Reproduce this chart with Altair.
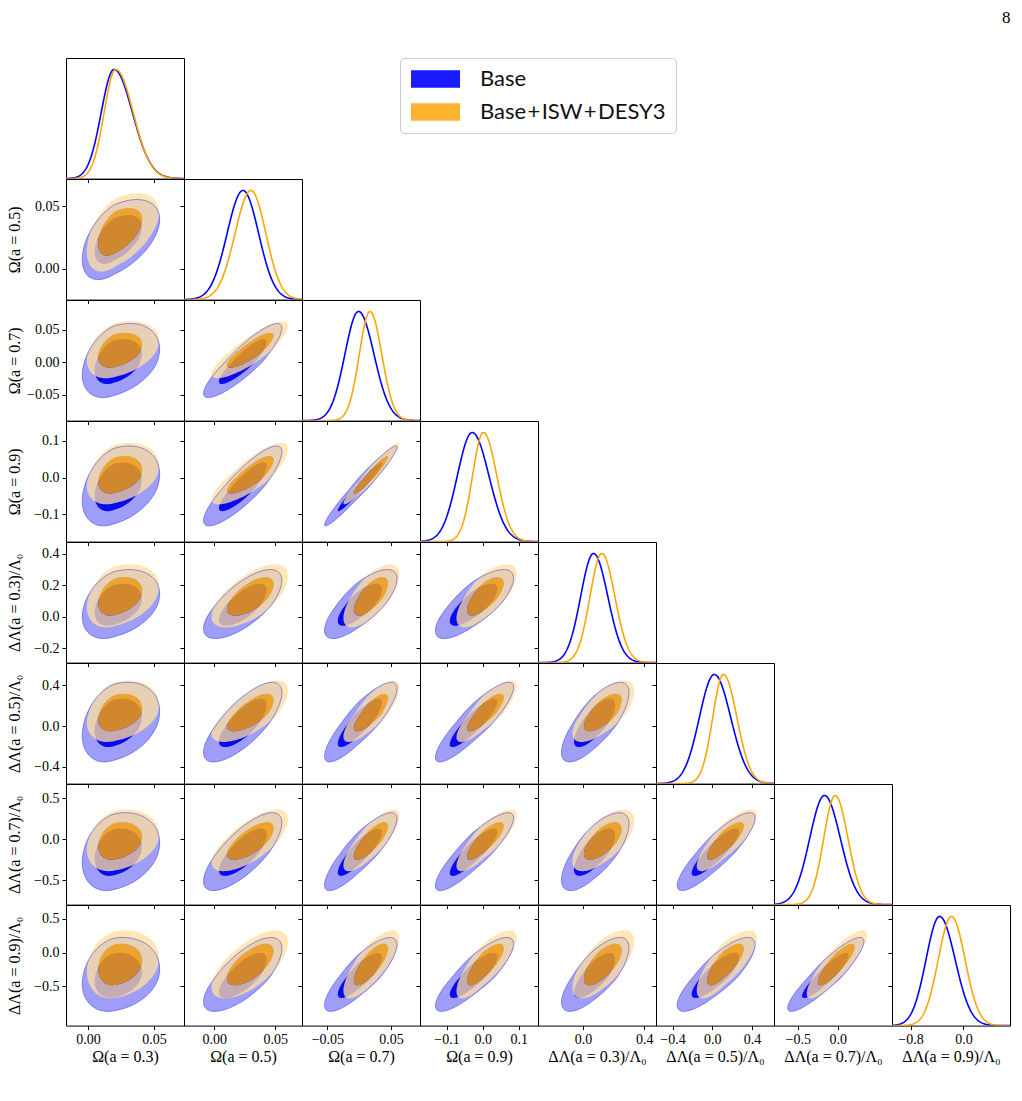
import numpy as np
import pandas as pd
import altair as alt

# ---------------- data ----------------
titles = ["Ω(a = 0.3)", "Ω(a = 0.5)", "Ω(a = 0.7)", "Ω(a = 0.9)",
          "ΔΛ(a = 0.3)/Λ₀", "ΔΛ(a = 0.5)/Λ₀", "ΔΛ(a = 0.7)/Λ₀", "ΔΛ(a = 0.9)/Λ₀"]
range_lo = [-0.0167, -0.0248, -0.0898, -0.1735, -0.293, -0.566, -0.797, -1.08]
range_hi = [0.0727, 0.0718, 0.0955, 0.153, 0.476, 0.62, 0.677, 0.705]
x_tick_values = [[0.0, 0.05], [0.0, 0.05], [-0.05, 0.05], [-0.1, 0.0, 0.1],
                 [0.0, 0.4], [-0.4, 0.0, 0.4], [-0.5, 0.0], [-0.8, 0.0]]
y_tick_values = [[0.0, 0.05], [0.0, 0.05], [-0.05, 0.0, 0.05], [-0.1, 0.0, 0.1],
                 [-0.2, 0.0, 0.2, 0.4], [-0.4, 0.0, 0.4], [-0.5, 0.0, 0.5], [-0.5, 0.0, 0.5]]
tick_formats = [".2f", ".2f", ".2f", ".1f", ".1f", ".1f", ".1f", ".1f"]

# posterior peak and lower / upper widths for each parameter
base_peak = [0.0197, 0.0235, -0.001, -0.029, 0.069, 0.02, -0.166, -0.36]
base_sig_lo = [0.0097, 0.013, 0.0215, 0.041, 0.084, 0.15, 0.185, 0.205]
base_sig_hi = [0.0139, 0.0128, 0.0243, 0.046, 0.093, 0.165, 0.198, 0.235]
comb_peak = [0.021, 0.030, 0.017, 0.002, 0.123, 0.112, -0.033, -0.18]
comb_sig_lo = [0.0088, 0.013, 0.0168, 0.030, 0.077, 0.108, 0.143, 0.20]
comb_sig_hi = [0.0132, 0.0122, 0.0185, 0.037, 0.085, 0.135, 0.16, 0.205]

# correlations (row parameter i vs column parameter j < i)
corr_base = [
    [],
    [0.50],
    [0.35, 0.88],
    [0.33, 0.86, 0.97],
    [0.33, 0.70, 0.75, 0.76],
    [0.30, 0.75, 0.85, 0.88, 0.75],
    [0.25, 0.75, 0.85, 0.87, 0.72, 0.87],
    [0.20, 0.72, 0.82, 0.84, 0.74, 0.82, 0.90],
]
corr_comb = [
    [],
    [0.50],
    [0.35, 0.85],
    [0.33, 0.82, 0.96],
    [0.33, 0.64, 0.69, 0.70],
    [0.30, 0.70, 0.80, 0.83, 0.69],
    [0.25, 0.70, 0.80, 0.82, 0.66, 0.82],
    [0.20, 0.66, 0.77, 0.79, 0.68, 0.77, 0.86],
]
dataset_labels = ["Base", "Base+ISW+DESY3"]
contour_radius = {"68": 1.515, "95": 2.486}   # 68% / 95% 2D levels

# ---------------- style ----------------
BLUE = "#0000ff"
ORANGE = "#ffa500"
B95 = "#9e9ef9"
B68 = "#0a0af2"
O95 = "#ffe09e"
O68 = "#ffa500"
W, H = 118, 120.6
SERIF = "Liberation Serif"
LEG_PATH = "M-1,-0.88H3.9V0.88H-1Z"

N = 120
tt = np.linspace(0, 2 * np.pi, N)


def ring(peak, slo, shi, i, j, rho, r):
    u = np.cos(tt)
    v = rho * np.cos(tt) + np.sqrt(1 - rho ** 2) * np.sin(tt)
    x = peak[j] + r * np.where(u < 0, u * slo[j], u * shi[j])
    y = peak[i] + r * np.where(v < 0, v * slo[i], v * shi[i])
    return x, y


def x_axis(r, c):
    if r == 7:
        return alt.Axis(values=x_tick_values[c], format=tick_formats[c], title=titles[c],
                        labels=True, ticks=True, tickSize=4, domain=False, grid=False,
                        labelPadding=3, titlePadding=2, labelFlush=False)
    return alt.Axis(values=x_tick_values[c], labels=False, title=None, ticks=True,
                    tickSize=4, domain=False, grid=False)


def y_axis(r, c):
    if c == 0:
        return alt.Axis(values=y_tick_values[r], format=tick_formats[r], title=titles[r],
                        labels=True, ticks=True, tickSize=4, domain=False, grid=False,
                        labelPadding=3, titleX=-44, labelFlush=False)
    return alt.Axis(values=y_tick_values[r], labels=False, title=None, ticks=True,
                    tickSize=4, domain=False, grid=False, orient="left")


def scale(k):
    return alt.Scale(domain=[range_lo[k], range_hi[k]], nice=False, zero=False)


def panel_2d(i, j):
    rb = corr_base[i][j]
    rc = corr_comb[i][j]
    parts = []

    def add(g, x, y):
        parts.append(pd.DataFrame({"g": g, "x": x, "y": y, "k": np.arange(len(x))}))

    bx2, by2 = ring(base_peak, base_sig_lo, base_sig_hi, i, j, rb, contour_radius["95"])
    bx1, by1 = ring(base_peak, base_sig_lo, base_sig_hi, i, j, rb, contour_radius["68"])
    ox2, oy2 = ring(comb_peak, comb_sig_lo, comb_sig_hi, i, j, rc, contour_radius["95"])
    ox1, oy1 = ring(comb_peak, comb_sig_lo, comb_sig_hi, i, j, rc, contour_radius["68"])
    add("b95", bx2, by2)
    add("b68", bx1, by1)
    add("o95", np.concatenate([ox2, ox1[::-1]]), np.concatenate([oy2, oy1[::-1]]))
    add("o68", ox1, oy1)
    df = pd.concat(parts, ignore_index=True)

    enc = dict(x=alt.X("x:Q", scale=scale(j), axis=x_axis(i, j)),
               y=alt.Y("y:Q", scale=scale(i), axis=y_axis(i, j)),
               order=alt.Order("k:Q"))

    def poly(g, color, op):
        return (alt.Chart().transform_filter(alt.datum.g == g)
                .mark_line(fill=color, fillOpacity=op, strokeOpacity=0, clip=True)
                .encode(**enc))

    outline = (alt.Chart().transform_filter(alt.datum.g == "b95")
               .mark_line(color="#4646ee", strokeWidth=0.8, opacity=0.75, clip=True)
               .encode(**enc))
    return alt.layer(poly("b95", B95, 1.0), poly("b68", B68, 1.0),
                     poly("o95", O95, 0.76), poly("o68", O68, 0.81), outline,
                     data=df).properties(width=W, height=H)


def density(peak, slo, shi, k, xs):
    s = np.where(xs < peak[k], slo[k], shi[k])
    return np.exp(-0.5 * ((xs - peak[k]) / s) ** 2)


def panel_diag(k):
    xs = np.linspace(range_lo[k], range_hi[k], 240)
    df_b = pd.DataFrame({"x": xs, "d": density(base_peak, base_sig_lo, base_sig_hi, k, xs)})
    df_c = pd.DataFrame({"x": xs, "d": density(comb_peak, comb_sig_lo, comb_sig_hi, k, xs)})
    X = alt.X("x:Q", scale=scale(k), axis=x_axis(k, k))
    Y = alt.Y("d:Q", scale=alt.Scale(domain=[0, 1.105], nice=False, zero=True), axis=None)
    lb = alt.Chart(df_b).mark_line(color=BLUE, strokeWidth=1.6, clip=True).encode(x=X, y=Y)
    lc = alt.Chart(df_c).mark_line(color=ORANGE, strokeWidth=1.6, clip=True).encode(x=X, y=Y)
    if k > 0:
        tk = (alt.Chart(pd.DataFrame({"v": y_tick_values[k]}))
              .mark_point(opacity=0)
              .encode(y=alt.Y("v:Q", scale=scale(k), axis=y_axis(k, 1))))
        ch = alt.layer(lb, lc, tk).resolve_scale(y="independent")
    else:
        leg = (alt.Chart(pd.DataFrame({"dataset": dataset_labels}))
               .transform_filter("false")
               .mark_point(shape=LEG_PATH, filled=True, size=400, opacity=1)
               .encode(color=alt.Color(
                   "dataset:N",
                   scale=alt.Scale(domain=dataset_labels, range=["#1a1aff", "#ffb232"]),
                   legend=alt.Legend(title=None, orient="none", legendX=334, legendY=0,
                                     fillColor="white", strokeColor="#cccccc",
                                     cornerRadius=4, padding=10, labelFont="Lato",
                                     labelFontSize=22, labelColor="#111111",
                                     labelExpr="join(split(datum.label, '+'), '\u200a+\u200a')",
                                     symbolType=LEG_PATH, symbolSize=400,
                                     symbolStrokeWidth=0, labelOffset=48,
                                     rowPadding=11, symbolOpacity=1))))
        ch = alt.layer(lb, lc, leg)
    return ch.properties(width=W, height=H)


def blank():
    return (alt.Chart(pd.DataFrame({"a": [0]})).mark_point(opacity=0)
            .properties(width=W, height=H,
                        view=alt.ViewBackground(strokeOpacity=0, fillOpacity=0)))


cells = []
for i in range(8):
    for j in range(8):
        if j < i:
            cells.append(panel_2d(i, j))
        elif j == i:
            cells.append(panel_diag(i))
        else:
            cells.append(blank())

chart = (alt.concat(*cells, columns=8, spacing=0, bounds="flush")
         .properties(title=alt.TitleParams("8", anchor="end", font=SERIF, fontSize=17,
                                           fontWeight="normal", color="black", offset=31),
                     padding={"left": 5, "top": 8, "right": 3, "bottom": 10})
         .configure_view(stroke="black", strokeWidth=1)
         .configure_axis(labelFont=SERIF, titleFont=SERIF, labelFontSize=14, titleFontSize=16,
                         labelColor="black", titleColor="black", tickColor="black",
                         titleFontWeight="normal", tickWidth=1)
         .configure_legend(labelLimit=400))

chart.save("out.html", embed_options={"renderer": "svg", "actions": False})
